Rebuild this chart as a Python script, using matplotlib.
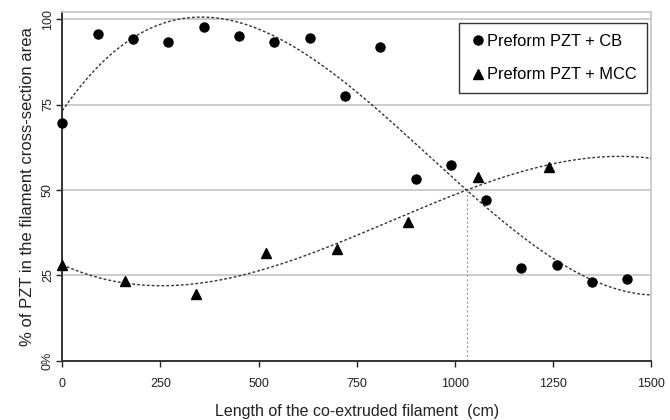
import matplotlib.pyplot as plt
import numpy as np

plt.rcParams['font.family'] = ['Liberation Sans', 'DejaVu Sans']

# data
cb_x = [0, 90, 180, 270, 360, 450, 540, 630, 720, 810, 900, 990, 1080, 1170, 1260, 1350, 1440]
cb_y = [69.7, 95.7, 94.3, 93.4, 97.7, 95.1, 93.4, 94.5, 77.4, 91.8, 53.1, 57.4, 47.2, 27.2, 28.0, 23.1, 24.1]
mcc_x = [0, 160, 340, 520, 700, 880, 1060, 1240]
mcc_y = [28.2, 23.3, 19.7, 31.6, 32.7, 40.6, 53.8, 56.7]

xticks = [0, 250, 500, 750, 1000, 1250, 1500]
yticks = [0, 25, 50, 75, 100]
yticklabels = ['0%', '25', '50', '75', '100']

fig = plt.figure(figsize=(6.7, 4.2), dpi=100)
ax = fig.add_axes([0.093, 0.1405, 0.8786, 0.8305])

# cubic trend lines (like the spreadsheet trendlines)
xx = np.linspace(0, 1500, 300)
p_cb = np.polyfit(cb_x, cb_y, 3)
p_mcc = np.polyfit(mcc_x, mcc_y, 3)
ax.plot(xx, np.polyval(p_cb, xx), color='#333333', lw=1.0, ls=(0, (2, 1.5)), zorder=3)
ax.plot(xx, np.polyval(p_mcc, xx), color='#333333', lw=1.0, ls=(0, (2, 1.5)), zorder=3)

# intersection of the two trends
roots = np.roots(p_cb - p_mcc)
roots = [r.real for r in roots if abs(r.imag) < 1e-9 and 0 < r.real < 1500]
xi = roots[0]
yi = np.polyval(p_cb, xi)
ax.plot([xi, xi], [0, yi], color='#999999', lw=0.8, ls=(0, (2, 2)), zorder=2)

ax.plot(cb_x, cb_y, 'o', color='black', ms=6.5, ls='none', label='Preform PZT + CB', zorder=4, clip_on=False)
ax.plot(mcc_x, mcc_y, '^', color='black', ms=7, ls='none', label='Preform PZT + MCC', zorder=4, clip_on=False)

ax.set_xlim(0, 1500)
ax.set_ylim(0, 102)
ax.set_xticks(xticks)
ax.set_yticks(yticks)
ax.set_yticklabels(yticklabels, rotation=90, va='center')
ax.tick_params(axis='both', direction='out', length=4, width=1, labelsize=9, colors='#222222')
ax.tick_params(axis='x', pad=8)
ax.tick_params(axis='y', pad=2)

for y in yticks[1:]:
    ax.axhline(y, color='#c4c4c4', lw=1.2, zorder=1)

ax.spines['left'].set_color('#333333')
ax.spines['left'].set_linewidth(1.4)
ax.spines['bottom'].set_color('#333333')
ax.spines['bottom'].set_linewidth(1.4)
ax.spines['top'].set_color('#c4c4c4')
ax.spines['right'].set_color('#c4c4c4')
ax.spines['top'].set_linewidth(1.2)
ax.spines['right'].set_linewidth(1.2)

ax.set_xlabel('Length of the co-extruded filament  (cm)', fontsize=11.5, color='#222222', labelpad=10)
ax.set_ylabel('% of PZT in the filament cross-section area', fontsize=12, color='#222222', labelpad=5)

leg = ax.legend(loc='upper right', bbox_to_anchor=(0.9932, 0.9693), frameon=True, fancybox=False,
                edgecolor='black', fontsize=11.8, handlelength=1.0, handletextpad=0.05,
                labelspacing=1.15, borderpad=0.65, borderaxespad=0)
leg.get_frame().set_linewidth(1.0)

fig.savefig('out.png', dpi=100)
